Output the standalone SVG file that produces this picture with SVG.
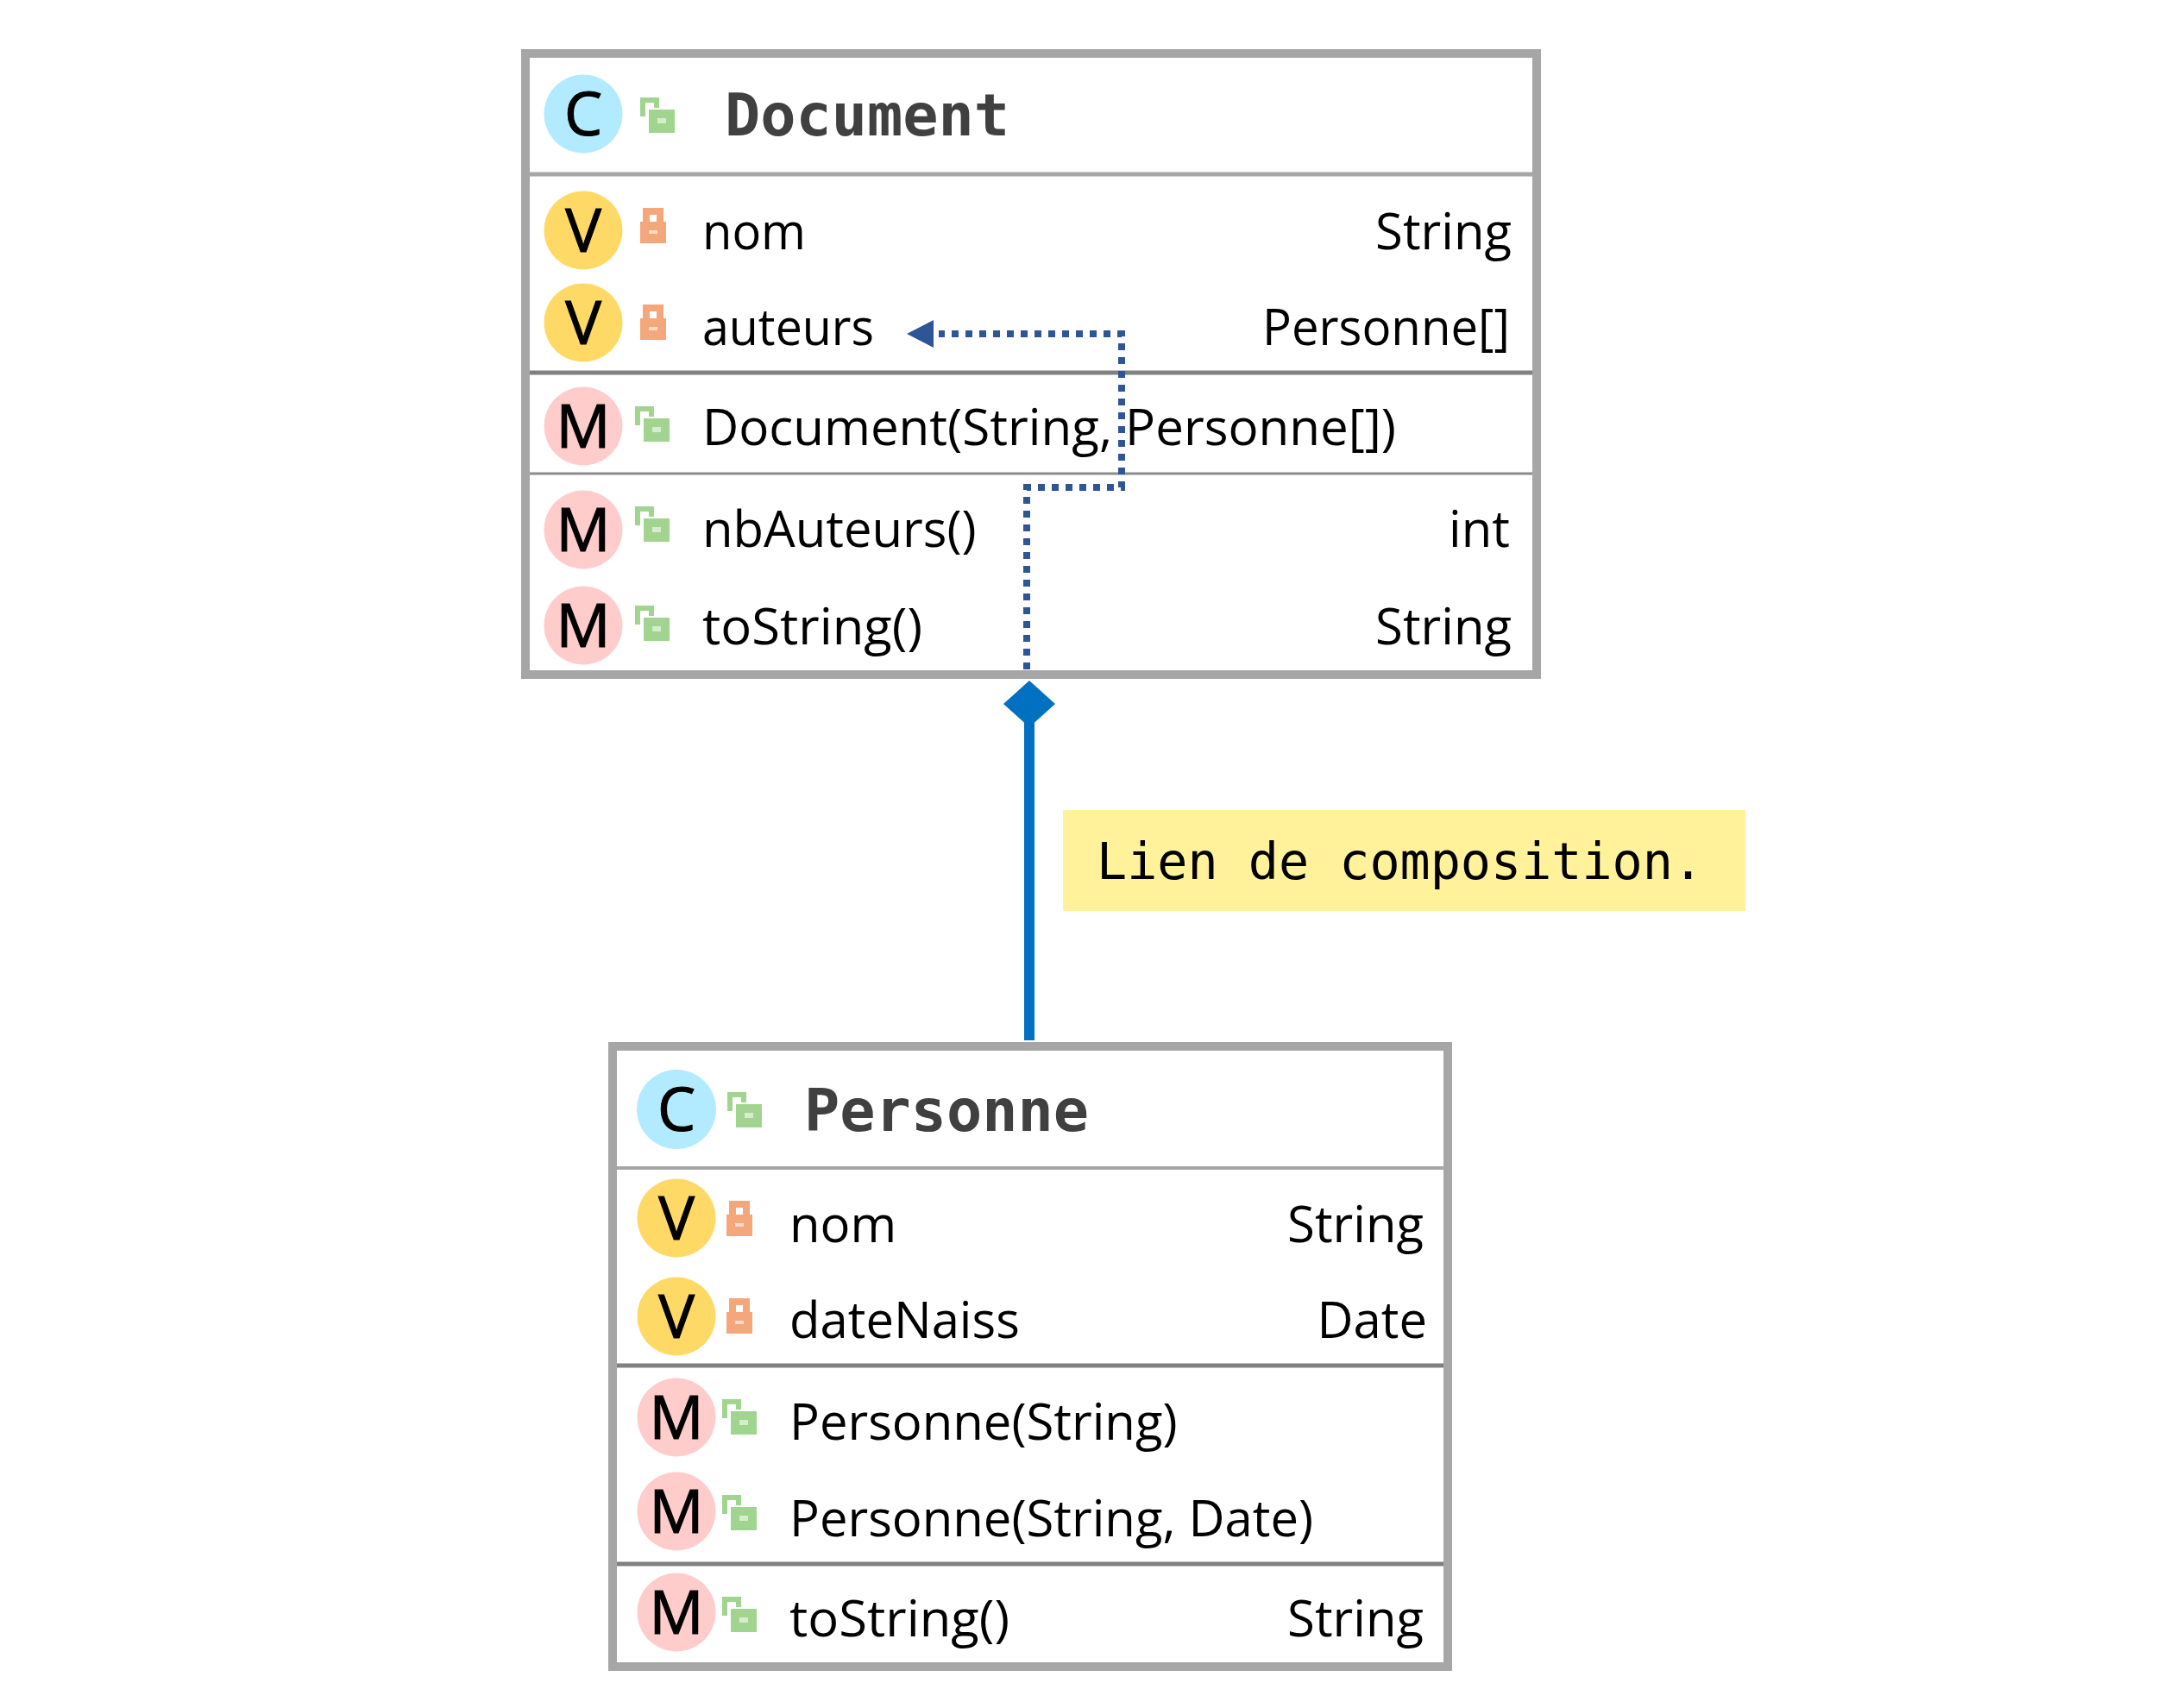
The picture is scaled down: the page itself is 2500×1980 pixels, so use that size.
<svg xmlns="http://www.w3.org/2000/svg" width="2500" height="1980" viewBox="0 0 2500 1980">
<style>
.box{fill:#fff;stroke:#a6a6a6;stroke-width:10}
.sepL{stroke:#a6a6a6;stroke-width:5}
.sepD{stroke:#808080;stroke-width:5}
.sepT{stroke:#8c8c8c;stroke-width:3}
.c{fill:#b2ebff}.v{fill:#ffd966}.m{fill:#ffcccc}
.ic{font-family:"Open Sans","Noto Sans",sans-serif;font-size:70px;fill:#000;stroke:#000;stroke-width:1.2;text-anchor:middle}
.t{font-family:"Open Sans","Noto Sans",sans-serif;font-size:58px;fill:#000}
.r{text-anchor:end}
.h{font-family:"DejaVu Sans Mono",monospace;font-weight:bold;font-size:68.5px;fill:#404040}
.n{font-family:"DejaVu Sans Mono",monospace;font-size:58.4px;fill:#000}
</style>
<defs>
<g id="pub"><path d="M3 22V3H19V12" fill="none" stroke="#a1d48e" stroke-width="6"/><rect x="10" y="14" width="30" height="27" fill="#a1d48e"/><rect x="20" y="24" width="10" height="6" fill="#d6edcd"/></g>
<g id="priv"><path d="M7 18V4H23V18" fill="none" stroke="#f4a77a" stroke-width="8"/><rect x="0" y="16" width="30" height="25" fill="#f4a77a"/><rect x="10" y="26" width="10" height="4" fill="#fbdcc9"/></g>
</defs>
<g id="Document">
<rect class="box" x="609" y="62" width="1172" height="720"/>
<line class="sepL" x1="614" y1="202" x2="1776" y2="202"/>
<line class="sepD" x1="614" y1="432" x2="1776" y2="432"/>
<line class="sepT" x1="614" y1="549" x2="1776" y2="549"/>
<circle class="c" cx="676" cy="132" r="45.5"/><text class="ic" x="676" y="157">C</text>
<use href="#pub" x="742" y="113"/>
<text class="h" x="840" y="157">Document</text>
<circle class="v" cx="676" cy="267" r="45.5"/><text class="ic" x="676" y="292">V</text>
<use href="#priv" x="742" y="241"/>
<text class="t" x="814" y="288.5" textLength="120" lengthAdjust="spacingAndGlyphs">nom</text><text class="t r" x="1752" y="288.5">String</text>
<circle class="v" cx="676" cy="374" r="45.5"/><text class="ic" x="676" y="399">V</text>
<use href="#priv" x="742" y="353"/>
<text class="t" x="814" y="399.5" textLength="199" lengthAdjust="spacingAndGlyphs">auteurs</text><text class="t r" x="1750" y="399.5" textLength="287" lengthAdjust="spacingAndGlyphs">Personne[]</text>
<circle class="m" cx="676" cy="494" r="45.5"/><text class="ic" x="676" y="519">M</text>
<use href="#pub" x="736" y="471"/>
<text class="t" x="814" y="515.5" textLength="804" lengthAdjust="spacingAndGlyphs">Document(String, Personne[])</text>
<circle class="m" cx="676" cy="614" r="45.5"/><text class="ic" x="676" y="639">M</text>
<use href="#pub" x="736" y="587"/>
<text class="t" x="814" y="633.5">nbAuteurs()</text><text class="t r" x="1750" y="633.5">int</text>
<circle class="m" cx="676" cy="725" r="45.5"/><text class="ic" x="676" y="750">M</text>
<use href="#pub" x="736" y="702"/>
<text class="t" x="814" y="746.5" textLength="255" lengthAdjust="spacingAndGlyphs">toString()</text><text class="t r" x="1752" y="746.5">String</text>
</g>
<g id="Personne">
<rect class="box" x="710" y="1213" width="968" height="719"/>
<line class="sepL" x1="715" y1="1354" x2="1673" y2="1354" style="stroke-width:4"/>
<line class="sepD" x1="715" y1="1583" x2="1673" y2="1583"/>
<line class="sepD" x1="715" y1="1813" x2="1673" y2="1813"/>
<circle class="c" cx="784" cy="1286" r="46"/><text class="ic" x="784" y="1311">C</text>
<use href="#pub" x="843" y="1266"/>
<text class="h" x="932" y="1311">Personne</text>
<circle class="v" cx="784" cy="1412" r="45.5"/><text class="ic" x="784" y="1437">V</text>
<use href="#priv" x="842" y="1392"/>
<text class="t" x="915" y="1439.5">nom</text><text class="t r" x="1650" y="1439.5">String</text>
<circle class="v" cx="784" cy="1526" r="45.5"/><text class="ic" x="784" y="1551">V</text>
<use href="#priv" x="842" y="1505"/>
<text class="t" x="915" y="1550.5">dateNaiss</text><text class="t r" x="1654" y="1550.5">Date</text>
<circle class="m" cx="784" cy="1643" r="45.5"/><text class="ic" x="784" y="1668">M</text>
<use href="#pub" x="837" y="1622"/>
<text class="t" x="915" y="1668.5">Personne(String)</text>
<circle class="m" cx="784" cy="1752" r="45.5"/><text class="ic" x="784" y="1777">M</text>
<use href="#pub" x="837" y="1733"/>
<text class="t" x="915" y="1780.5">Personne(String, Date)</text>
<circle class="m" cx="784" cy="1869" r="45.5"/><text class="ic" x="784" y="1894">M</text>
<use href="#pub" x="837" y="1851"/>
<text class="t" x="915" y="1896.5" textLength="255" lengthAdjust="spacingAndGlyphs">toString()</text><text class="t r" x="1650" y="1896.5">String</text>
</g>
<g id="Note">
<rect x="1232" y="939" width="791" height="117" fill="#fff29b"/>
<text class="n" x="1271" y="1019">Lien de composition.</text>
</g>
<g id="connectors">
<path d="M1190 776V565H1300V387H1088" fill="none" stroke="#2f5597" stroke-width="8" stroke-dasharray="8 8"/>
<polygon points="1051,387 1082,371 1082,403" fill="#2f5597"/>
<line x1="1193" y1="835" x2="1193" y2="1206" stroke="#0070c0" stroke-width="12"/>
<polygon points="1193,789 1223,816 1193,843 1163,816" fill="#0070c0"/>
</g>
</svg>
